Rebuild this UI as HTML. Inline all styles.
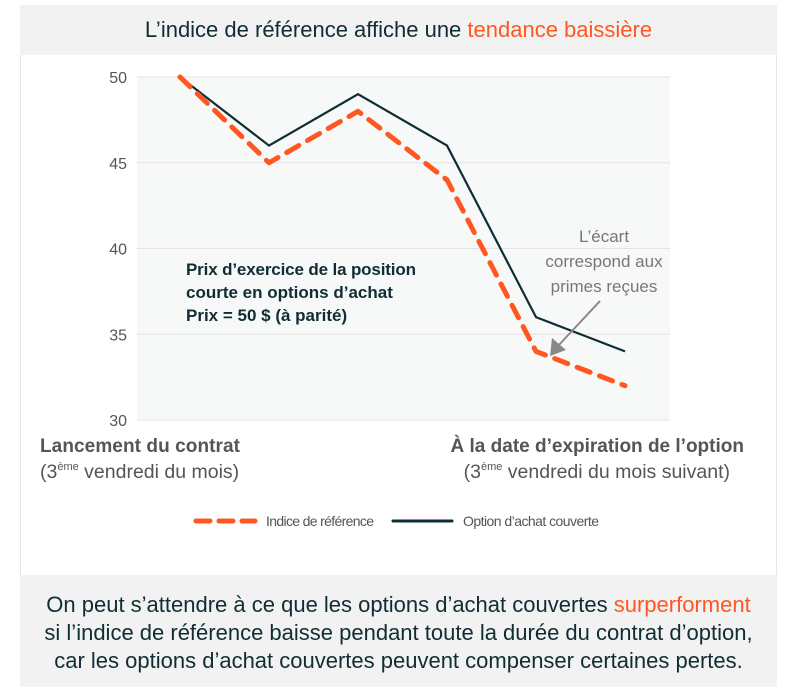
<!DOCTYPE html>
<html><head><meta charset="utf-8">
<style>
body{margin:0;width:788px;height:695px;background:#fff;font-family:"Liberation Sans",sans-serif;overflow:hidden;position:relative}
#card{position:absolute;left:20px;top:5px;width:757px;height:682px;border:1px solid #e6e6e6;background:#fff;box-sizing:border-box}
#title{position:absolute;left:20px;top:5px;width:757px;height:50px;background:#f2f2f2;text-align:center;line-height:50px;font-size:22px;color:#0f2d33}
#foot{position:absolute;left:20px;top:575px;width:757px;height:112px;background:#f2f2f2;text-align:center;font-size:22px;line-height:28px;color:#0f2d33;padding-top:16px;box-sizing:border-box;white-space:nowrap}
.or{color:#ff5722}
</style></head><body>
<div id="card"></div>
<div id="title">L’indice de référence affiche une <span class="or">tendance baissière</span></div>
<svg id="chart" width="788" height="695" style="position:absolute;left:0;top:0"></svg>
<div id="foot">On peut s’attendre à ce que les options d’achat couvertes <span class="or">surperforment</span><br>si l’indice de référence baisse pendant toute la durée du contrat d’option,<br>car les options d’achat couvertes peuvent compenser certaines pertes.</div>
<script>
const periods = [0,1,2,3,4,5];
const indexValues = [50,45,48,44,34,32];
const callValues = [50,46,49,46,36,34];
const yTicks = [30,35,40,45,50];
const NS="http://www.w3.org/2000/svg";
const svg=document.getElementById('chart');
function x(i){return 180+i*89;}
function y(v){return 420-(v-30)*(343/20);}
function mk(t,a,p){const e=document.createElementNS(NS,t);for(const k in a)e.setAttribute(k,a[k]);(p||svg).appendChild(e);return e;}
const bg=mk('rect',{x:137,y:y(50),width:533,height:420-y(50),fill:'#f7f9f9'});


yTicks.forEach(v=>{
  const l=mk('line',{x1:137,x2:670,y1:y(v),y2:y(v),stroke:'#e3e3e3','stroke-width':1});
  
  
  const t=mk('text',{x:127,y:y(v)+6,'text-anchor':'end','font-size':16,fill:'#555'});
  t.textContent=v;
  
  
});
function pts(arr){return arr.map((v,i)=>x(periods[i])+','+y(v)).join(' ');}
const cl=mk('polyline',{points:pts(callValues),fill:'none',stroke:'#0f2d33','stroke-width':2.2});


const il=mk('polyline',{points:pts(indexValues),fill:'none',stroke:'#ff5722','stroke-width':5,'stroke-dasharray':'14 10','stroke-linecap':'round','stroke-linejoin':'round'});


const ar=mk('line',{x1:600,y1:301,x2:557,y2:347,stroke:'#888','stroke-width':2});


const ah=mk('polygon',{points:'550,356 552,338 566,350',fill:'#888'});


function txt(s,a,name){const t=mk('text',a);t.innerHTML=s;return t;}
txt('L’écart',{x:604,y:242,'text-anchor':'middle','font-size':17,fill:'#777'},'gap-label-1');
txt('correspond aux',{x:604,y:267,'text-anchor':'middle','font-size':17,fill:'#777'},'gap-label-2');
txt('primes reçues',{x:604,y:292,'text-anchor':'middle','font-size':17,fill:'#777'},'gap-label-3');
txt('Prix d’exercice de la position',{x:186,y:275,'font-size':17,'font-weight':'bold',fill:'#0f2d33',textLength:230},'strike-label-1');
txt('courte en options d’achat',{x:186,y:298,'font-size':17,'font-weight':'bold',fill:'#0f2d33'},'strike-label-2');
txt('Prix = 50 $ (à parité)',{x:186,y:321,'font-size':17,'font-weight':'bold',fill:'#0f2d33'},'strike-label-3');
txt('Lancement du contrat',{x:40,y:452,'font-size':19,'font-weight':'bold',fill:'#555',textLength:200},'x-start-label');
txt('(3<tspan font-size="11" dy="-8">ème</tspan><tspan dy="8"> vendredi du mois)</tspan>',{x:40,y:478,'font-size':19.5,fill:'#555'},'x-start-sub');
txt('À la date d’expiration de l’option',{x:744,y:452,'text-anchor':'end','font-size':19,'font-weight':'bold',fill:'#555'},'x-end-label');
txt('(3<tspan font-size="11" dy="-8">ème</tspan><tspan dy="8"> vendredi du mois suivant)</tspan>',{x:730,y:478,'text-anchor':'end','font-size':19.5,fill:'#555'},'x-end-sub');
const lg1=mk('line',{x1:196,x2:255,y1:521,y2:521,stroke:'#ff5722','stroke-width':5,'stroke-dasharray':'14 9','stroke-linecap':'round'});


txt('Indice de référence',{x:266,y:526,'font-size':14,fill:'#555',textLength:108},'legend-index-label');
const lg2=mk('line',{x1:393,x2:452,y1:521,y2:521,stroke:'#0f2d33','stroke-width':3,'stroke-linecap':'round'});


txt('Option d’achat couverte',{x:463,y:526,'font-size':14,fill:'#555',textLength:136},'legend-call-label');
</script>
</body></html>
